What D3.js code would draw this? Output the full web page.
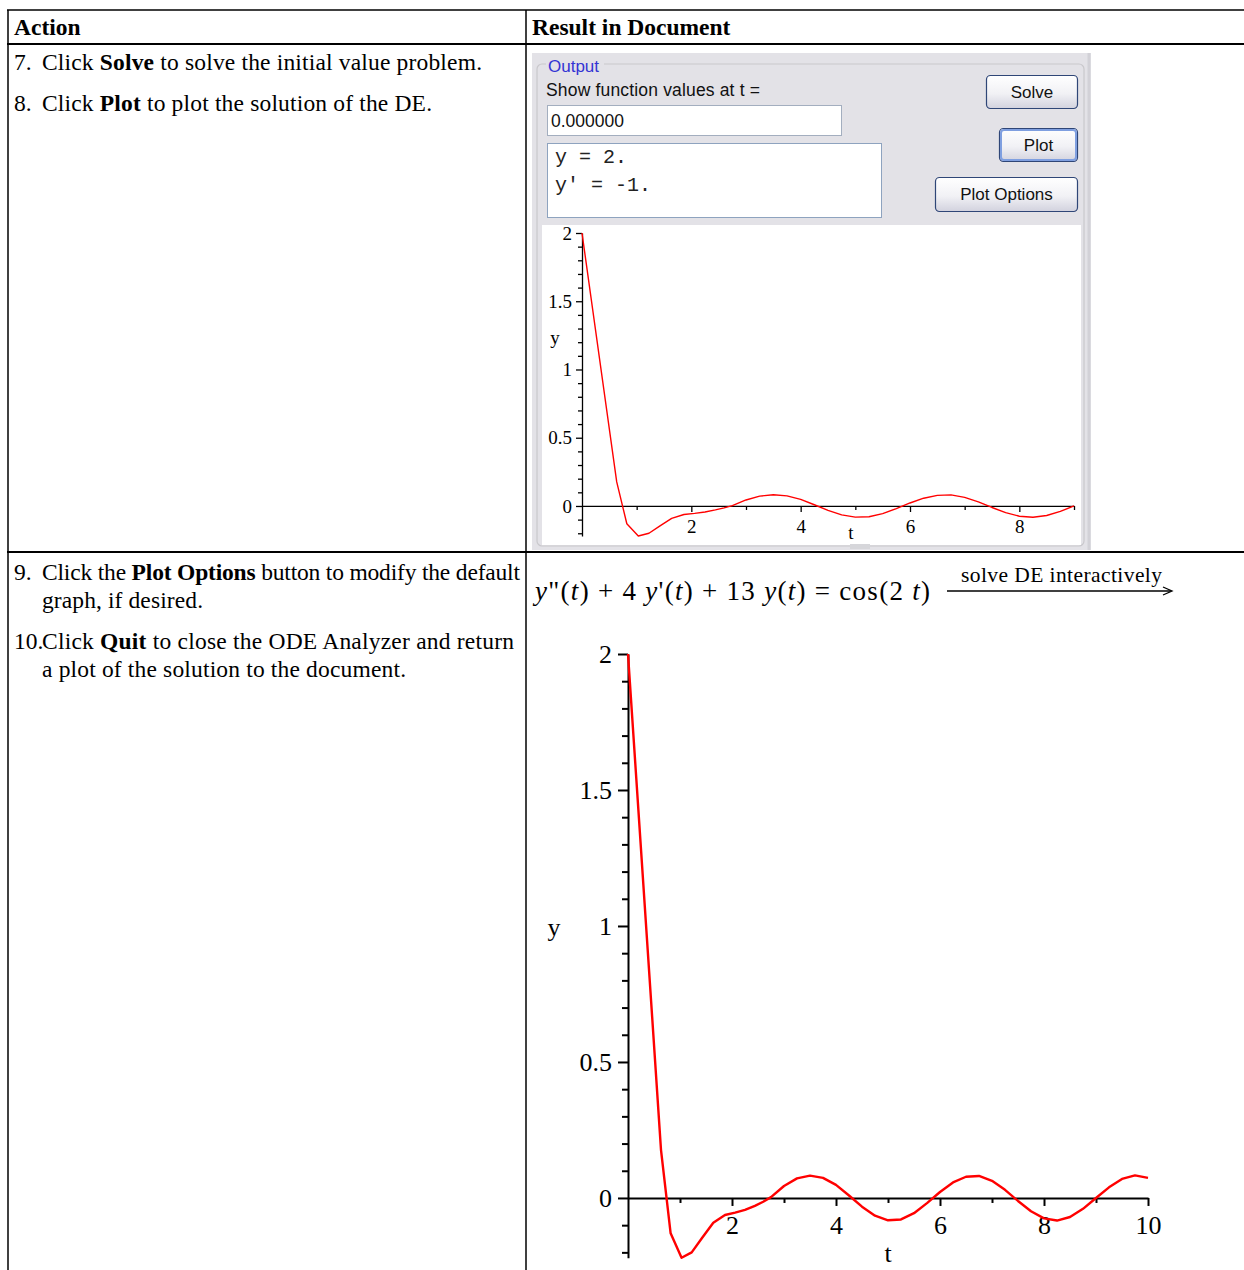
<!DOCTYPE html>
<html>
<head>
<meta charset="utf-8">
<script src="https://cdn.jsdelivr.net/npm/d3@7"></script>
<style>
  body { margin: 0; background: #fff; }
  svg { display: block; }
</style>
</head>
<body>
<svg id="page"></svg>
<script>
// solution y(t) of the DE
const tValues = [0, 0.635, 0.82, 1.03, 1.225, 1.42, 1.64, 1.865, 2.06, 2.25, 2.44, 2.6, 2.75,
  3.0, 3.25, 3.5, 3.75, 4.0, 4.25, 4.5, 4.75, 5.0, 5.25, 5.5, 5.75, 6.0, 6.25, 6.5, 6.75,
  7.0, 7.25, 7.5, 7.75, 8.0, 8.25, 8.5, 8.75, 9.0, 9.25, 9.5, 9.75, 10];
const yValues = [2, 0.176, -0.13, -0.22, -0.2, -0.148, -0.091, -0.0625, -0.054, -0.044, -0.029, -0.014, 0.003,
  0.044, 0.072, 0.082, 0.074, 0.048, 0.009, -0.032, -0.065, -0.082, -0.079, -0.056, -0.019, 0.022, 0.057, 0.078, 0.081,
  0.063, 0.03, -0.011, -0.049, -0.075, -0.083, -0.07, -0.04, 0, 0.039, 0.07, 0.083, 0.074];

const yMajorTicks = [0, 0.5, 1, 1.5, 2];
const yMinorTicks = [-0.2, -0.1, 0.1, 0.2, 0.3, 0.4, 0.6, 0.7, 0.8, 0.9, 1.1, 1.2, 1.3, 1.4, 1.6, 1.7, 1.8, 1.9];
const tMajorTicks = [2, 4, 6, 8, 10];
const tMinorTicks = [1, 3, 5, 7, 9];

(function () {
    const serif = "'Liberation Serif', 'Times New Roman', serif";
    const sans = "'Liberation Sans', Tahoma, Arial, sans-serif";
    const mono = "'Liberation Mono', 'Courier New', monospace";

    const svg = d3.select("#page").attr("width", 1244).attr("height", 1270);
    const points = tValues.map((t, i) => ({ t: t, y: yValues[i] }));

    // ---- table text (left column) ----
    // parts starting with "*" are bold; width stretches the line like the document did
    function richLine(x, y, parts, size, weight, width) {
        const txt = svg.append("text")
            .attr("x", x).attr("y", y)
            .attr("font-family", serif)
            .attr("font-size", size)
            .attr("font-weight", weight || "normal");
        if (width) txt.attr("textLength", width).attr("lengthAdjust", "spacing");
        parts.forEach(p => {
            const isBold = p.startsWith("*");
            txt.append("tspan")
                .attr("font-weight", isBold ? "bold" : null)
                .text(isBold ? p.slice(1) : p);
        });
    }

    const fs = 23.5;
    richLine(14, 35, ["Action"], fs, "bold");
    richLine(532, 35, ["Result in Document"], fs, "bold");

    const steps = [
        { y: 70, num: "7.", parts: ["Click ", "*Solve", " to solve the initial value problem."], w: 440 },
        { y: 111, num: "8.", parts: ["Click ", "*Plot", " to plot the solution of the DE."], w: 390 },
        { y: 580, num: "9.", parts: ["Click the ", "*Plot Options", " button to modify the default"], w: 478 },
        { y: 608, num: "", parts: ["graph, if desired."], w: 161 },
        { y: 649, num: "10.", parts: ["Click ", "*Quit", " to close the ODE Analyzer and return"], w: 472 },
        { y: 677, num: "", parts: ["a plot of the solution to the document."], w: 364 }
    ];
    steps.forEach(s => {
        if (s.num) richLine(14, s.y, [s.num], fs);
        richLine(42, s.y, s.parts, fs, null, s.w);
    });

    // ---- ODE Analyzer panel (top right) ----
    const defs = svg.append("defs");
    const grad = defs.append("linearGradient").attr("id", "btnGrad")
        .attr("x1", 0).attr("y1", 0).attr("x2", 0).attr("y2", 1);
    grad.append("stop").attr("offset", "0%").attr("stop-color", "#ffffff");
    grad.append("stop").attr("offset", "55%").attr("stop-color", "#f1f1f5");
    grad.append("stop").attr("offset", "100%").attr("stop-color", "#d2d2de");

    const gui = svg.append("g");
    gui.append("rect").attr("x", 532).attr("y", 53).attr("width", 559).attr("height", 497)
        .attr("fill", "#e3e2e7");
    gui.append("line").attr("x1", 1089).attr("x2", 1089).attr("y1", 53).attr("y2", 550)
        .attr("stroke", "#d2d1d7").attr("stroke-width", 3);

    // fieldset border + legend
    gui.append("rect").attr("x", 537).attr("y", 64).attr("width", 547).attr("height", 482)
        .attr("rx", 5).attr("fill", "none").attr("stroke", "#c9c8cc").attr("stroke-width", 1.2);
    gui.append("rect").attr("x", 546).attr("y", 58).attr("width", 58).attr("height", 12).attr("fill", "#e3e2e7");
    gui.append("text").attr("x", 548).attr("y", 72).attr("font-family", sans).attr("font-size", 17)
        .attr("fill", "#3434d4").text("Output");

    gui.append("text").attr("x", 546).attr("y", 96).attr("font-family", sans).attr("font-size", 17.5)
        .attr("fill", "#111").attr("textLength", 214).attr("lengthAdjust", "spacing")
        .text("Show function values at t =");

    // input box
    gui.append("rect").attr("x", 547.5).attr("y", 105.5).attr("width", 294).attr("height", 30)
        .attr("fill", "#fff").attr("stroke", "#a3aebf");
    gui.append("text").attr("x", 551).attr("y", 127).attr("font-family", sans).attr("font-size", 17.5)
        .attr("fill", "#111").text("0.000000");

    // output text area
    gui.append("rect").attr("x", 547.5).attr("y", 143.5).attr("width", 334).attr("height", 74)
        .attr("fill", "#fff").attr("stroke", "#8ea3bf");
    gui.append("text").attr("x", 555).attr("y", 163).attr("font-family", mono).attr("font-size", 20)
        .attr("fill", "#222").attr("xml:space", "preserve").text("y = 2.");
    gui.append("text").attr("x", 555).attr("y", 191).attr("font-family", mono).attr("font-size", 20)
        .attr("fill", "#222").attr("xml:space", "preserve").text("y' = -1.");

    // buttons
    const buttons = [
        { label: "Solve", x: 986, y: 75, w: 91, h: 33, focus: false },
        { label: "Plot", x: 999, y: 128, w: 78, h: 33, focus: true },
        { label: "Plot Options", x: 935, y: 177, w: 142, h: 34, focus: false }
    ];
    buttons.forEach(b => {
        gui.append("rect").attr("x", b.x + 0.5).attr("y", b.y + 0.5).attr("width", b.w).attr("height", b.h)
            .attr("rx", 4).attr("fill", "url(#btnGrad)").attr("stroke", "#2f4677").attr("stroke-width", 1.2);
        if (b.focus) {
            gui.append("rect").attr("x", b.x + 2).attr("y", b.y + 2).attr("width", b.w - 3).attr("height", b.h - 3)
                .attr("rx", 3).attr("fill", "none").attr("stroke", "#7f9fe0").attr("stroke-width", 2);
        }
        gui.append("text").attr("x", b.x + b.w / 2 + 0.5).attr("y", b.y + b.h / 2 + 6)
            .attr("text-anchor", "middle").attr("font-family", sans).attr("font-size", 17)
            .attr("fill", "#111").text(b.label);
    });

    // plot area of analyzer
    gui.append("rect").attr("x", 542).attr("y", 225).attr("width", 539).attr("height", 320).attr("fill", "#fff");
    gui.append("rect").attr("x", 850).attr("y", 544).attr("width", 20).attr("height", 5).attr("fill", "#d6d6da");

    // ---- generic Maple-style plot ----
    function drawPlot(opt) {
        const g = svg.append("g");
        const data = points.filter(d => d.t <= opt.tMax);
        const x = d3.scaleLinear().domain([0, opt.tMax]).range([opt.x0, opt.x1]);
        const y = d3.scaleLinear().domain([-0.22, 2]).range([opt.yBottom, opt.yTop]);

        function styleAxis(sel, hideDomain) {
            sel.attr("font-family", serif).attr("font-size", opt.font);
            sel.selectAll("line").attr("stroke", "#000").attr("stroke-width", opt.sw);
            sel.select(".domain").attr("stroke", "#000").attr("stroke-width", opt.sw)
                .attr("display", hideDomain ? "none" : null);
            sel.selectAll("text").attr("fill", "#000");
        }

        // y axis
        g.append("g").attr("transform", `translate(${x(0)},0)`)
            .call(d3.axisLeft(y).tickValues(yMinorTicks).tickSize(opt.yMinor).tickSizeOuter(0).tickFormat(""))
            .call(s => styleAxis(s, true));
        g.append("g").attr("transform", `translate(${x(0)},0)`)
            .call(d3.axisLeft(y).tickValues(yMajorTicks).tickSize(opt.yMajor).tickSizeOuter(0)
                .tickPadding(opt.yPad).tickFormat(d3.format("")))
            .call(s => styleAxis(s, false));

        // t axis
        g.append("g").attr("transform", `translate(0,${y(0)})`)
            .call(d3.axisBottom(x).tickValues(tMinorTicks.filter(v => v <= opt.tMax))
                .tickSize(opt.tMinor).tickSizeOuter(0).tickFormat(""))
            .call(s => styleAxis(s, true));
        g.append("g").attr("transform", `translate(0,${y(0)})`)
            .call(d3.axisBottom(x).tickValues(tMajorTicks.filter(v => v <= opt.tMax))
                .tickSize(opt.tMajor).tickSizeOuter(0).tickPadding(opt.tPad).tickFormat(d3.format("")))
            .call(s => styleAxis(s, false));

        // axis titles
        g.append("text").attr("x", opt.yLabel[0]).attr("y", opt.yLabel[1])
            .attr("text-anchor", "middle").attr("font-family", serif).attr("font-size", opt.font).text("y");
        g.append("text").attr("x", opt.tLabel[0]).attr("y", opt.tLabel[1])
            .attr("text-anchor", "middle").attr("font-family", serif).attr("font-size", opt.font).text("t");

        // solution curve
        g.append("path").datum(data)
            .attr("fill", "none").attr("stroke", "#ff0000").attr("stroke-width", opt.lw)
            .attr("stroke-linejoin", "round")
            .attr("d", d3.line().x(d => x(d.t)).y(d => y(d.y)));
    }

    // small plot inside the analyzer
    drawPlot({
        tMax: 9, x0: 582, x1: 1074, yTop: 233, yBottom: 536,
        font: 19, sw: 1.3, lw: 1.4,
        yMajor: 6, yMinor: 4, yPad: 4, tMajor: 6, tMinor: 4, tPad: 8,
        yLabel: [555, 344], tLabel: [851, 539]
    });

    // ---- equation with arrow (bottom right) ----
    const eq = svg.append("text").attr("x", 535).attr("y", 600)
        .attr("font-family", serif).attr("font-size", 27).attr("xml:space", "preserve")
        .attr("textLength", 395).attr("lengthAdjust", "spacing");
    const eqParts = [
        ["y", true], ["\"(", false], ["t", true], [") + 4 ", false], ["y", true], ["'(", false], ["t", true],
        [") + 13 ", false], ["y", true], ["(", false], ["t", true], [") = cos(2 ", false], ["t", true], [")", false]
    ];
    eqParts.forEach(p => {
        eq.append("tspan").attr("font-style", p[1] ? "italic" : null).text(p[0]);
    });

    svg.append("text").attr("x", 961).attr("y", 582)
        .attr("font-family", serif).attr("font-size", 21.5)
        .attr("textLength", 201).attr("lengthAdjust", "spacing").text("solve DE interactively");
    svg.append("line").attr("x1", 947).attr("x2", 1171).attr("y1", 591).attr("y2", 591)
        .attr("stroke", "#000").attr("stroke-width", 1.3);
    svg.append("path").attr("d", "M1163,587 L1172,591 L1163,595").attr("fill", "none")
        .attr("stroke", "#000").attr("stroke-width", 1.3);

    // big document plot
    drawPlot({
        tMax: 10, x0: 628, x1: 1148, yTop: 654, yBottom: 1257.8,
        font: 26, sw: 2, lw: 2.4,
        yMajor: 10, yMinor: 6, yPad: 6, tMajor: 8, tMinor: 5, tPad: 10,
        yLabel: [554, 936], tLabel: [888, 1262]
    });

    // ---- table rules ----
    const rules = svg.append("g").attr("stroke", "#000");
    rules.append("line").attr("x1", 7).attr("x2", 1244).attr("y1", 10).attr("y2", 10).attr("stroke-width", 1.5);
    rules.append("line").attr("x1", 7).attr("x2", 1244).attr("y1", 44).attr("y2", 44).attr("stroke-width", 2);
    rules.append("line").attr("x1", 7).attr("x2", 1244).attr("y1", 552).attr("y2", 552).attr("stroke-width", 2);
    rules.append("line").attr("x1", 8).attr("x2", 8).attr("y1", 10).attr("y2", 1270).attr("stroke-width", 1.5);
    rules.append("line").attr("x1", 526).attr("x2", 526).attr("y1", 10).attr("y2", 1270).attr("stroke-width", 1.5);
})();
</script>
</body>
</html>
